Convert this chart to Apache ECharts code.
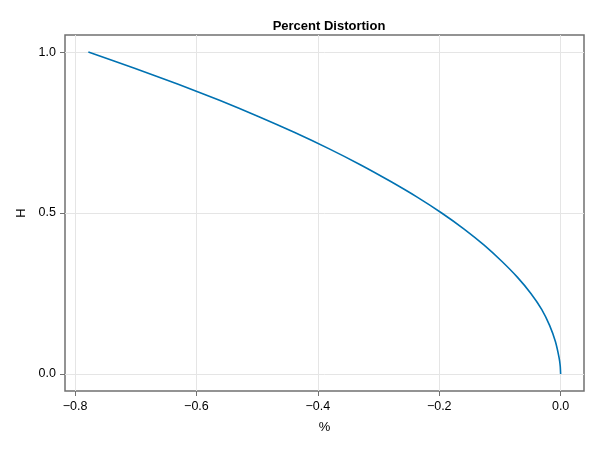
<!DOCTYPE html>
<html>
<head>
<meta charset="utf-8">
<script src="https://cdn.jsdelivr.net/npm/echarts@6/dist/echarts.min.js"></script>
<style>html,body{margin:0;padding:0;background:#fff}#c{width:600px;height:450px}</style>
</head>
<body>
<div id="c"></div>
<script>
// Data
const hValues = [1.0, 0.95, 0.9, 0.85, 0.8, 0.75, 0.7, 0.65, 0.6, 0.55, 0.5, 0.45, 0.4, 0.35, 0.3, 0.25, 0.2, 0.15, 0.1, 0.05, 0.025, 0.0];
const pctValues = [-0.778, -0.702, -0.630, -0.562, -0.498, -0.438, -0.382, -0.330, -0.282, -0.237, -0.196, -0.159, -0.126, -0.097, -0.071, -0.049, -0.031, -0.018, -0.0085, -0.0025, -0.0007, 0.0];
const xTicks = [-0.8, -0.6, -0.4, -0.2, 0.0];
const yTicks = [0.0, 0.5, 1.0];

const fmt = v => v.toFixed(1).replace('-', '\u2212');
const font = '"Liberation Sans", Arial, sans-serif';
const chart = echarts.init(document.getElementById('c'), null, {renderer: 'canvas'});
chart.setOption({
  animation: false,
  title: {
    text: 'Percent Distortion', left: 324, top: 15, textAlign: 'center',
    textStyle: {fontFamily: font, fontSize: 13, fontWeight: 'bold', color: '#000'}
  },
  grid: {left: 65, right: 16, top: 35, bottom: 59, show: true, borderColor: '#707070', borderWidth: 1.5},
  xAxis: {
    type: 'value', min: -0.8165, max: 0.0385,
    name: '%', nameLocation: 'middle', nameGap: 30,
    nameTextStyle: {fontFamily: font, fontSize: 13, color: '#000'},
    axisLine: {show: false, onZero: false},
    axisTick: {show: true, length: 5, lineStyle: {color: '#707070', width: 1}, customValues: xTicks},
    axisLabel: {customValues: xTicks, formatter: fmt, margin: 9, fontFamily: font, fontSize: 12.5, color: '#000'},
    splitLine: {show: true, lineStyle: {color: '#e5e5e5', width: 1}}
  },
  yAxis: {
    type: 'value', min: -0.053, max: 1.053,
    name: 'H', nameLocation: 'middle', nameGap: 35,
    nameTextStyle: {fontFamily: font, fontSize: 13, color: '#000'},
    axisLine: {show: false, onZero: false},
    axisTick: {show: true, length: 5, lineStyle: {color: '#707070', width: 1}, customValues: yTicks},
    axisLabel: {customValues: yTicks, formatter: fmt, margin: 9, fontFamily: font, fontSize: 12.5, color: '#000'},
    splitLine: {show: true, lineStyle: {color: '#e5e5e5', width: 1}}
  },
  series: [{
    type: 'line', showSymbol: false, smooth: 0.25,
    lineStyle: {color: '#0072b2', width: 1.6},
    data: hValues.map((h, i) => [pctValues[i], h])
  }]
});
</script>
</body>
</html>
